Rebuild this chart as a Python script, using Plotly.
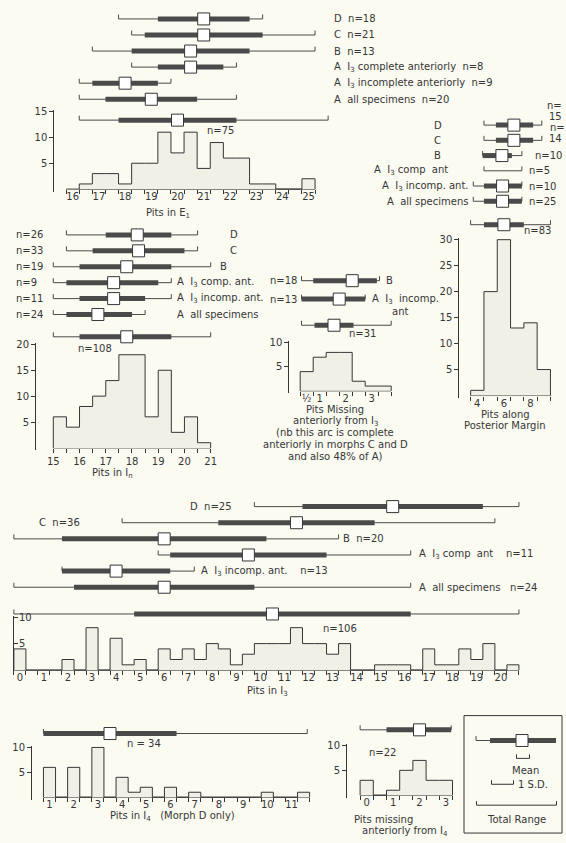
import plotly.graph_objects as go

W, H = 566, 843
INK = "#363636"
BARC = "#4a4a4a"
BG = "#fbfbf2"
HFILL = "#f0f0e7"
FONT = "DejaVu Sans"
FS = 10

# ===================== DATA =====================
# --- Pits in E1 ---
e1_groups = ["D  n=18", "C  n=21", "B  n=13", "A  I<sub>3</sub> complete anteriorly  n=8",
             "A  I<sub>3</sub> incomplete anteriorly  n=9", "A  all specimens  n=20"]
e1_min = [17.75, 18.25, 16.75, 18.25, 16.25, 16.25]
e1_max = [23.25, 25.25, 25.25, 22.25, 19.75, 22.25]
e1_sd_lo = [19.25, 18.75, 18.25, 19.25, 16.75, 17.25]
e1_sd_hi = [22.75, 23.25, 22.75, 21.75, 19.25, 20.75]
e1_mean = [21.0, 21.0, 20.5, 20.5, 18.0, 19.0]
e1_total = [16.25, 25.75, 17.75, 22.25, 20.0]          # min, max, sd_lo, sd_hi, mean
e1_bins = [16.5, 17, 17.5, 18, 18.5, 19, 19.5, 20, 20.5, 21, 21.5, 22, 22.5, 23, 23.5, 24, 24.5, 25]
e1_counts = [1, 3, 3, 1, 5, 5, 11, 7, 11, 4, 9, 6, 6, 1, 1, 0, 0, 2]
e1_ticks = [16, 17, 18, 19, 20, 21, 22, 23, 24, 25]

# --- Pits in In ---
in_n = ["n=26", "n=33", "n=19", "n=9", "n=11", "n=24"]
in_groups = ["D", "C", "B", "A  I<sub>3</sub> comp. ant.", "A  I<sub>3</sub> incomp. ant.", "A  all specimens"]
in_min = [15.5, 15.5, 15.0, 15.0, 15.0, 15.0]
in_max = [20.5, 20.5, 21.0, 19.5, 19.5, 18.5]
in_sd_lo = [17.0, 16.5, 16.0, 15.5, 16.0, 15.5]
in_sd_hi = [19.5, 20.0, 19.5, 19.0, 18.5, 18.0]
in_mean = [18.2, 18.25, 17.8, 17.3, 17.3, 16.7]
in_total = [15.0, 21.0, 16.0, 19.5, 17.8]
in_bins = [15.25, 15.75, 16.25, 16.75, 17.25, 17.75, 18.25, 18.75, 19.25, 19.75, 20.25, 20.75]
in_counts = [6, 4, 8, 10, 13, 18, 18, 6, 15, 3, 6, 1]
in_ticks = [15, 16, 17, 18, 19, 20, 21]

# --- Pits missing anteriorly from I3 ---
m3_n = ["n=18", "n=13"]
m3_min = [0.3, 0.3]
m3_max = [3.3, 2.75]
m3_sd_lo = [0.75, 0.3]
m3_sd_hi = [3.2, 2.75]
m3_mean = [2.25, 1.75]
m3_total = [0.3, 3.75, 0.8, 2.3, 1.55]
m3_bins = [0.5, 1, 1.5, 2, 2.5, 3, 3.5]
m3_counts = [4, 7, 8, 8, 2, 1, 1]
m3_ticks = [0.5, 1, 2, 3]
m3_ticktext = ["½", "1", "2", "3"]

# --- Pits along posterior margin ---
pm_groups = ["D", "C", "B", "A  I<sub>3</sub> comp  ant", "A  I<sub>3</sub> incomp. ant.", "A  all specimens"]
pm_min = [4.5, 4.5, 4.4, 4.5, 3.7, 3.7]
pm_max = [8.85, 8.85, 7.35, 7.35, 7.35, 7.35]
pm_sd_lo = [5.4, 5.4, 4.4, None, 4.5, 4.5]
pm_sd_hi = [8.2, 8.2, 6.6, None, 7.35, 7.35]
pm_mean = [6.75, 6.75, 5.85, None, 5.9, 5.9]
pm_total = [3.5, 9.5, 4.5, 7.5, 6.0]
pm_bins = [4, 5, 6, 7, 8, 9]
pm_counts = [1, 20, 30, 13, 14, 5]
pm_ticks = [4, 6, 8]

# --- Pits in I3 ---
i3_min = [9.75, 4.25, -0.25, 5.75, 1.75, -0.25]
i3_max = [20.75, 19.75, 13.25, 16.25, 7.25, 16.25]
i3_sd_lo = [11.75, 8.25, 1.75, 6.25, 1.75, 2.25]
i3_sd_hi = [19.25, 14.75, 10.25, 12.75, 6.25, 9.75]
i3_mean = [15.5, 11.5, 6.0, 9.5, 4.0, 6.0]
i3_total = [-0.25, 20.75, 4.75, 16.25, 10.5]
i3_bins = [0, 0.5, 1, 1.5, 2, 2.5, 3, 3.5, 4, 4.5, 5, 5.5, 6, 6.5, 7, 7.5, 8, 8.5, 9, 9.5, 10,
           10.5, 11, 11.5, 12, 12.5, 13, 13.5, 14, 14.5, 15, 15.5, 16, 16.5, 17, 17.5, 18, 18.5,
           19, 19.5, 20, 20.5]
i3_counts = [4, 0, 0, 0, 2, 0, 8, 0, 6, 1, 2, 0, 4, 2, 4, 2, 5, 4, 1, 3, 5,
             5, 5, 8, 5, 5, 3, 5, 0, 0, 1, 1, 1, 0, 4, 1, 1, 4,
             2, 5, 0, 1]
i3_ticks = list(range(0, 21))

# --- Pits in I4 (Morph D only) ---
i4_total = [0.75, 11.65, 0.75, 6.25, 3.5]
i4_bins = [1, 1.5, 2, 2.5, 3, 3.5, 4, 4.5, 5, 5.5, 6, 6.5, 7, 7.5, 8, 8.5, 9, 9.5, 10, 10.5, 11, 11.5]
i4_counts = [6, 0, 6, 0, 10, 0, 4, 1, 2, 0, 2, 0, 1, 0, 0, 0, 0, 0, 1, 0, 0, 1]
i4_ticks = list(range(1, 12))

# --- Pits missing anteriorly from I4 ---
m4_total = [-0.25, 3.2, 0.75, 3.2, 2.0]
m4_bins = [0, 0.5, 1, 1.5, 2, 2.5, 3]
m4_counts = [3, 0, 1, 5, 7, 3, 3]
m4_ticks = [0, 1, 2, 3]

# ===================== LAYOUT (pixel calibration) =====================
panels = [
    dict(bins=e1_bins, counts=e1_counts, w=0.5, mins=e1_min, maxs=e1_max, sdl=e1_sd_lo, sdh=e1_sd_hi,
         means=e1_mean, total=e1_total, ticks=e1_ticks, ticktext=None, ytop=15, yticks=[5, 10, 15],
         xcal=(16, 72.7, 26.2), axis=(15.75, 25.25, 0.5), on_labels=False,
         base=186, yppu=5.2, yaxis_px=53.3, yinside=False, row0=15, rowsp=16.14, total_r=6.3),
    dict(bins=in_bins, counts=in_counts, w=0.5, mins=in_min, maxs=in_max, sdl=in_sd_lo, sdh=in_sd_hi,
         means=in_mean, total=in_total, ticks=in_ticks, ticktext=None, ytop=20, yticks=[5, 10, 15, 20],
         xcal=(15, 53.3, 26.23), axis=(15, 21, 0.5), on_labels=True,
         base=446, yppu=5.2, yaxis_px=35, yinside=False, row0=232, rowsp=16, total_r=6.4),
    dict(bins=m3_bins, counts=m3_counts, w=0.5, mins=m3_min, maxs=m3_max, sdl=m3_sd_lo, sdh=m3_sd_hi,
         means=m3_mean, total=m3_total, ticks=m3_ticks, ticktext=m3_ticktext, ytop=10, yticks=[5, 10],
         xcal=(0.5, 306.7, 26.0), axis=(0.25, 3.75, 0.5), on_labels=False,
         base=388.7, yppu=4.83, yaxis_px=288.3, yinside=False, row0=278, rowsp=18.5, total_r=2.42),
    dict(bins=pm_bins, counts=pm_counts, w=1.0, mins=pm_min, maxs=pm_max, sdl=pm_sd_lo, sdh=pm_sd_hi,
         means=pm_mean, total=pm_total, ticks=pm_ticks, ticktext=None, ytop=30, yticks=[5, 10, 15, 20, 25, 30],
         xcal=(4, 477.3, 13.3), axis=(3.5, 9.5, 1.0), on_labels=False,
         base=393.4, yppu=5.22, yaxis_px=458.3, yinside=False, row0=121.7, rowsp=15.3, total_r=6.54),
    dict(bins=i3_bins, counts=i3_counts, w=0.5, mins=i3_min, maxs=i3_max, sdl=i3_sd_lo, sdh=i3_sd_hi,
         means=i3_mean, total=i3_total, ticks=i3_ticks, ticktext=None, ytop=10, yticks=[5, 10],
         xcal=(0, 19.9, 24.05), axis=(-0.25, 20.75, 0.5), on_labels=False,
         base=669.3, yppu=5.33, yaxis_px=13.3, yinside=True, row0=505, rowsp=16.2, total_r=6.66),
    dict(bins=i4_bins, counts=i4_counts, w=0.5, mins=[], maxs=[], sdl=[], sdh=[],
         means=[], total=i4_total, ticks=i4_ticks, ticktext=None, ytop=10, yticks=[5, 10],
         xcal=(1, 49.5, 24.2), axis=(0.75, 11.75, 0.5), on_labels=False,
         base=797, yppu=5.0, yaxis_px=31, yinside=False, row0=733, rowsp=16, total_r=0),
    dict(bins=m4_bins, counts=m4_counts, w=0.5, mins=[], maxs=[], sdl=[], sdh=[],
         means=[], total=m4_total, ticks=m4_ticks, ticktext=None, ytop=10, yticks=[5, 10],
         xcal=(0, 366.7, 26.4), axis=(-0.25, 3.25, 0.5), on_labels=False,
         base=795, yppu=5.0, yaxis_px=346, yinside=False, row0=729.3, rowsp=16, total_r=0),
]


def axname(prefix, i):
    return prefix if i == 1 else f"{prefix}{i}"


def step_outline(centers, counts, w):
    xs, ys = [centers[0] - w / 2], [0]
    for c, n in zip(centers, counts):
        xs.append(c - w / 2)
        ys.append(n)
    xs += [centers[-1] + w / 2, centers[-1] + w / 2]
    ys += [counts[-1], 0]
    return xs, ys


fig = go.Figure()
lay = dict(width=W, height=H, margin=dict(l=0, r=0, t=0, b=0), paper_bgcolor=BG,
           plot_bgcolor="rgba(0,0,0,0)", showlegend=False,
           font=dict(family=FONT, size=FS, color=INK))
tickfont = dict(family=FONT, size=FS, color=INK)
anns = []

for k, P in enumerate(panels):
    xi, yh, yb = k + 1, 2 * k + 1, 2 * k + 2
    xr, yhr, ybr = axname("x", xi), axname("y", yh), axname("y", yb)
    xkey, yhkey, ybkey = axname("xaxis", xi), axname("yaxis", yh), axname("yaxis", yb)
    u0, p0, ppu = P["xcal"]
    lo, hi, step = P["axis"]
    n_edges = int(round((hi - lo) / step)) + 1
    edges = [lo + i * step for i in range(n_edges)]
    ttext = P["ticktext"] if P["ticktext"] else [str(t) for t in P["ticks"]]
    lay[xkey] = dict(domain=[0, 1], range=[u0 - p0 / ppu, u0 + (W - p0) / ppu], anchor="free",
                     position=1 - P["base"] / H, showline=False, showgrid=False, zeroline=False,
                     tickmode="array", tickvals=P["ticks"], ticktext=ttext,
                     ticks="outside" if P["on_labels"] else "", ticklen=4, tickwidth=1, tickcolor=INK,
                     minor=dict(tickmode="array", tickvals=edges, ticks="outside", ticklen=4,
                                tickwidth=1, tickcolor=INK, showgrid=False),
                     tickfont=tickfont, fixedrange=True)
    pad_b, pad_t = 2.5, 1.5
    top_px = P["base"] - P["ytop"] * P["yppu"]
    lay[yhkey] = dict(domain=[1 - (P["base"] + pad_b) / H, 1 - (top_px - pad_t) / H],
                      range=[-pad_b / P["yppu"], P["ytop"] + pad_t / P["yppu"]],
                      anchor="free", position=P["yaxis_px"] / W, showline=True, linecolor=INK,
                      linewidth=1, ticks="inside" if P["yinside"] else "outside", ticklen=4,
                      tickcolor=INK, tickmode="array", tickvals=P["yticks"],
                      showticklabels=not P["yinside"],
                      showgrid=False, zeroline=False, tickfont=tickfont, fixedrange=True)
    if P["yinside"]:
        for v in P["yticks"]:
            anns.append(dict(text=str(v), x=(P["yaxis_px"] + 4) / W, xref="paper", y=v, yref=yhr,
                             showarrow=False, xanchor="left", yanchor="middle",
                             font=dict(family=FONT, size=FS, color=INK)))
    lay[ybkey] = dict(domain=[0, 1], range=[(H - P["row0"]) / P["rowsp"], -P["row0"] / P["rowsp"]],
                      visible=False, anchor=xr, fixedrange=True)

    # histogram
    fig.add_trace(go.Scatter(x=[lo, hi], y=[0, 0], mode="lines", line=dict(color=INK, width=1),
                             xaxis=xr, yaxis=yhr, hoverinfo="skip"))
    hx, hy = step_outline(P["bins"], P["counts"], P["w"])
    fig.add_trace(go.Scatter(x=hx, y=hy, mode="lines", line=dict(color=INK, width=1, shape="hv"),
                             fill="toself", fillcolor=HFILL, xaxis=xr, yaxis=yhr, hoverinfo="skip"))

    # range / SD / mean bars
    t = P["total"]
    rows = list(range(len(P["mins"]))) + [P["total_r"]]
    mins = P["mins"] + [t[0]]
    maxs = P["maxs"] + [t[1]]
    sdl = P["sdl"] + [t[2]]
    sdh = P["sdh"] + [t[3]]
    means = P["means"] + [t[4]]
    cap = 4.5 / P["rowsp"]
    rx, ry = [], []
    for r, a, b in zip(rows, mins, maxs):
        rx += [a, a, b, b, None]
        ry += [r - cap, r, r, r - cap, None]
    fig.add_trace(go.Scatter(x=rx, y=ry, mode="lines", line=dict(color=BARC, width=1),
                             xaxis=xr, yaxis=ybr, hoverinfo="skip"))
    sx, sy = [], []
    for r, a, b in zip(rows, sdl, sdh):
        if a is None:
            continue
        sx += [a, b, None]
        sy += [r, r, None]
    fig.add_trace(go.Scatter(x=sx, y=sy, mode="lines", line=dict(color=BARC, width=5),
                             xaxis=xr, yaxis=ybr, hoverinfo="skip"))
    mx = [m for m in means if m is not None]
    my = [r for r, m in zip(rows, means) if m is not None]
    fig.add_trace(go.Scatter(x=mx, y=my, mode="markers", cliponaxis=False,
                             marker=dict(symbol="square", size=12, color="white",
                                         line=dict(color=INK, width=1)),
                             xaxis=xr, yaxis=ybr, hoverinfo="skip"))

# ===================== TEXT =====================


def ann(text, x, y, anchor="left", size=FS):
    anns.append(dict(text=text, x=x / W, y=1 - y / H, xref="paper", yref="paper", showarrow=False,
                     xanchor=anchor, yanchor="middle", font=dict(family=FONT, size=size, color=INK)))


def rowy(P, r):
    return P["row0"] + P["rowsp"] * r


P = panels[0]
for r, g in enumerate(e1_groups):
    ann(g, 332, rowy(P, r))
ann("n=75", 220, 127, "center")
ann("Pits in E<sub>1</sub>", 168, 210, "center")

P = panels[1]
for r, (nn, g) in enumerate(zip(in_n, in_groups)):
    ann(nn, 14, rowy(P, r))
    gx = [228, 228, 218, 175, 175, 175][r]
    ann(g, gx, rowy(P, r))
ann("n=108", 95, 346, "center")
ann("Pits in I<sub>n</sub>", 112, 472, "center")

P = panels[2]
ann(m3_n[0], 299, rowy(P, 0), "right")
ann("B", 384, rowy(P, 0))
ann(m3_n[1], 299, rowy(P, 1), "right")
ann("A  I<sub>3</sub>  incomp.", 370, rowy(P, 1))
ann("ant", 390, rowy(P, 1) + 12)
ann("n=31", 362, 331, "center")
for i, line in enumerate(["Pits Missing", "anteriorly from I<sub>3</sub>", "(nb this arc is complete",
                          "anteriorly in morphs C and D", "and also 48% of A)"]):
    ann(line, 335, 407 + 12 * i, "center")

P = panels[3]
for r, g in enumerate(pm_groups):
    if r < 3:
        ann(g, 438, rowy(P, r), "center")
    elif r == 3:
        ann(g, 450, rowy(P, r), "right")
    else:
        ann(g, 471, rowy(P, r), "right")
ann("n=", 545, 102)
ann("15", 564, 113, "right")
ann("n=", 548, 124)
ann("14", 564, 135, "right")
ann("n=10", 564, rowy(P, 2), "right")
ann("n=5", 527, rowy(P, 3))
ann("n=10", 527, rowy(P, 4))
ann("n=25", 527, rowy(P, 5))
ann("n=83", 537, 228, "center")
ann("Pits along", 505, 412, "center")
ann("Posterior Margin", 505, 424, "center")

P = panels[4]
ann("D  n=25", 234, rowy(P, 0), "right")
ann("C  n=36", 37, rowy(P, 1))
ann("B  n=20", 341, rowy(P, 2))
ann("A  I<sub>3</sub> comp  ant    n=11", 417, rowy(P, 3))
ann("A  I<sub>3</sub> incomp. ant.    n=13", 199, rowy(P, 4))
ann("A  all specimens   n=24", 417, rowy(P, 5))
ann("n=106", 340, 627, "center")
ann("Pits in I<sub>3</sub>", 267, 691, "center")

ann("n = 34", 144, 743, "center")
ann("Pits in I<sub>4</sub>   (Morph D only)", 172, 816, "center")
ann("n=22", 382, 752, "center")
ann("Pits missing", 383, 819, "center")
ann("anteriorly from I<sub>4</sub>", 405, 831, "center")

# ---- key box ----
ann("Mean", 525, 770, "center")
ann("1 S.D.", 516, 784)
ann("Total Range", 516, 819, "center")


def pth(points):
    return "M " + " L ".join(f"{x / W:.5f},{1 - y / H:.5f}" for x, y in points)


shapes = [
    dict(type="rect", xref="paper", yref="paper", x0=464 / W, x1=562 / W, y0=1 - 833 / H, y1=1 - 715 / H,
         line=dict(color=INK, width=1)),
    dict(type="path", xref="paper", yref="paper", path=pth([(476, 735.5), (476, 740), (490, 740)]),
         line=dict(color=BARC, width=1)),
    dict(type="path", xref="paper", yref="paper", path=pth([(490, 740), (556, 740)]),
         line=dict(color=BARC, width=5)),
    dict(type="rect", xref="paper", yref="paper", x0=516 / W, x1=528 / W, y0=1 - 746 / H, y1=1 - 734 / H,
         fillcolor="white", line=dict(color=INK, width=1)),
    dict(type="path", xref="paper", yref="paper", path=pth([(516.5, 754), (516.5, 758), (529.5, 758), (529.5, 754)]),
         line=dict(color=INK, width=1)),
    dict(type="path", xref="paper", yref="paper", path=pth([(491.5, 780), (491.5, 784), (513.5, 784), (513.5, 780)]),
         line=dict(color=INK, width=1)),
    dict(type="path", xref="paper", yref="paper", path=pth([(476.5, 801), (476.5, 805), (556.5, 805), (556.5, 801)]),
         line=dict(color=INK, width=1)),
]

lay["annotations"] = anns
lay["shapes"] = shapes
fig.update_layout(**lay)
fig.write_html("out.html",
               config={"displayModeBar": False, "staticPlot": True},
               post_script="document.body.style.margin='0';document.body.style.padding='0';"
                           "document.body.style.overflow='hidden';"
                           "document.body.style.background='" + BG + "';")
